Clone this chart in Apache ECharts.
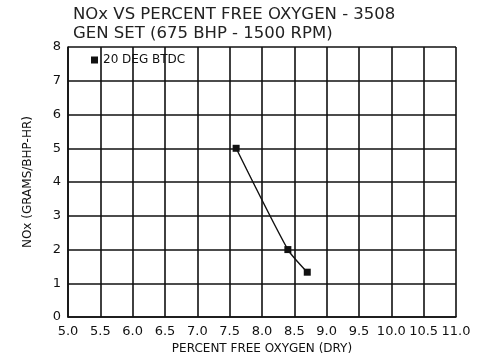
<!DOCTYPE html>
<html><head><meta charset="utf-8">
<script src="https://cdn.jsdelivr.net/npm/echarts@6/dist/echarts.min.js"></script>
<style>html,body{margin:0;padding:0;background:#fff}#c{width:482px;height:360px}</style>
</head><body><div id="c"></div>
<script>
const titleLines = ["NOx VS PERCENT FREE OXYGEN - 3508", "GEN SET (675 BHP - 1500 RPM)"];
const seriesName = "20 DEG BTDC";
const oxygen = [7.6, 8.4, 8.7];
const nox = [5.0, 2.0, 1.33];
const xName = "PERCENT FREE OXYGEN (DRY)";
const yName = "NOx (GRAMS/BHP-HR)";
const FONT = "DejaVu Sans";
const chart = echarts.init(document.getElementById('c'), null, {renderer:'canvas'});
chart.setOption({
  backgroundColor:'#fff',
  animation:false,
  title:{text:titleLines.join('\n'), left:68, top:0,
    textStyle:{fontFamily:FONT, fontSize:16.5, fontWeight:'normal', color:'#222', lineHeight:19}},
  legend:{data:[{name:seriesName, icon:'rect'}], left:86, top:49, itemWidth:7, itemHeight:7, itemGap:4,
    textStyle:{fontFamily:FONT, fontSize:12, color:'#111'}},
  grid:{left:68, right:26, top:47, bottom:38},
  xAxis:{type:'value', min:5.0, max:11.0, interval:0.5,
    name:xName, nameLocation:'middle', nameGap:24,
    nameTextStyle:{fontFamily:FONT, fontSize:12, color:'#111'},
    axisLine:{show:true, lineStyle:{color:'#111', width:1.6}},
    axisTick:{show:false},
    axisLabel:{formatter:v=>v.toFixed(1), fontFamily:FONT, fontSize:13, color:'#111', margin:8},
    splitLine:{show:true, lineStyle:{color:'#111', width:1.6}}},
  yAxis:{type:'value', min:0, max:8, interval:1,
    name:yName, nameLocation:'middle', nameGap:34, nameRotate:90,
    nameTextStyle:{fontFamily:FONT, fontSize:12, color:'#111'},
    axisLine:{show:true, lineStyle:{color:'#111', width:1.6}},
    axisTick:{show:false},
    axisLabel:{fontFamily:FONT, fontSize:13, color:'#111', margin:7},
    splitLine:{show:true, lineStyle:{color:'#111', width:1.6}}},
  series:[{name:seriesName, type:'line', smooth:0.2,
    data:oxygen.map((x,i)=>[x,nox[i]]),
    symbol:'rect', symbolSize:7,
    itemStyle:{color:'#111'}, lineStyle:{color:'#111', width:1.4}}]
});
</script></body></html>
